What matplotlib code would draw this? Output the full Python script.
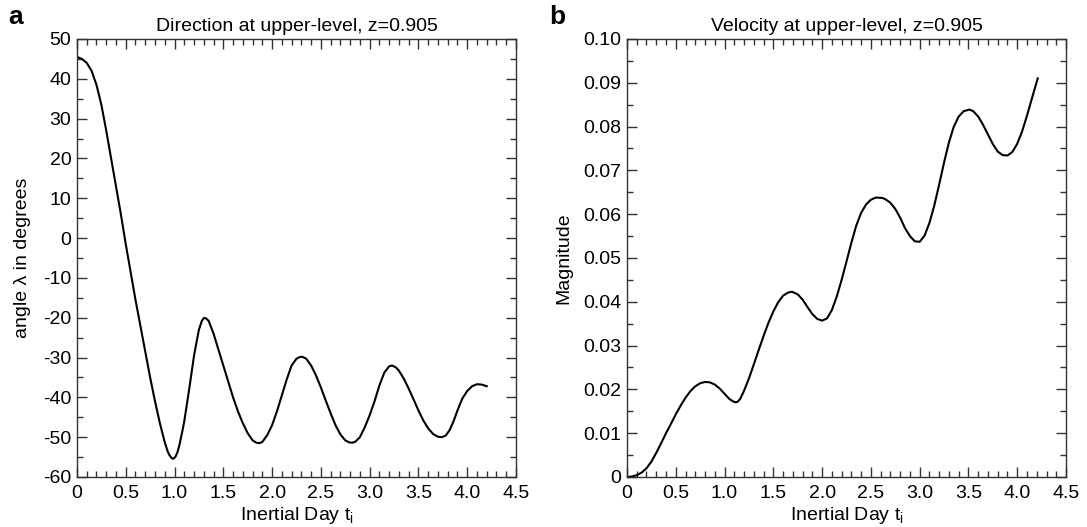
import matplotlib
matplotlib.use("Agg")
import matplotlib.pyplot as plt
from matplotlib.ticker import MultipleLocator, FuncFormatter

plt.rcParams['font.family'] = ['Liberation Sans', 'DejaVu Sans']
plt.rcParams['axes.unicode_minus'] = False

# panel a: direction angle (degrees) vs inertial day
t_dir = [0.00, 0.05, 0.10, 0.15, 0.20, 0.25, 0.30, 0.35, 0.40, 0.45,
         0.50, 0.55, 0.60, 0.65, 0.70, 0.75, 0.80, 0.85, 0.90, 0.93,
         0.95, 0.97, 0.98, 0.99, 1.01, 1.03, 1.05, 1.08, 1.10, 1.15,
         1.20, 1.25, 1.28, 1.30, 1.32, 1.35,
         1.40, 1.45, 1.50, 1.55, 1.60, 1.65, 1.70, 1.75, 1.80, 1.84,
         1.87, 1.90, 1.95, 2.00, 2.05, 2.10, 2.15, 2.20, 2.25, 2.28,
         2.31, 2.35, 2.40, 2.45, 2.50, 2.55, 2.60, 2.65, 2.70, 2.75,
         2.79, 2.82, 2.85, 2.90, 2.95, 3.00, 3.05, 3.10, 3.15, 3.20,
         3.23, 3.27, 3.30, 3.35, 3.40, 3.45, 3.50, 3.55, 3.60, 3.65,
         3.70, 3.74, 3.78, 3.82, 3.86, 3.90, 3.95, 4.00, 4.05, 4.10,
         4.15, 4.20]
angle = [45.5, 45.0, 44.0, 42.0, 38.5, 33.5, 27.0, 20.0, 13.0, 6.0,
         -1.5, -8.5, -15.5, -22.0, -28.5, -35.0, -41.0, -46.5, -51.3, -53.6,
         -54.6, -55.2, -55.4, -55.4, -54.9, -53.8, -52.0, -48.5, -46.0, -38.0,
         -29.5, -23.0, -20.8, -20.1, -20.1, -20.8,
         -24.0, -28.0, -32.0, -36.0, -40.0, -43.5, -46.5, -49.0, -50.8, -51.4,
         -51.5, -51.2, -49.5, -47.0, -43.5, -39.5, -35.5, -32.0, -30.3, -29.9,
         -29.8, -30.3, -32.0, -34.5, -37.5, -40.8, -44.0, -47.0, -49.3, -50.8,
         -51.3, -51.4, -51.2, -50.0, -47.5, -44.5, -41.0, -37.0, -33.8, -32.2,
         -32.0, -32.5, -33.3, -35.3, -37.8, -40.5, -43.3, -45.8, -47.8, -49.2,
         -49.9, -50.0, -49.6, -48.2, -46.0, -43.3, -40.3, -38.4, -37.2, -36.7,
         -36.8, -37.2]

# panel b: velocity magnitude vs inertial day
t_vel = [0.00, 0.05, 0.10, 0.15, 0.20, 0.25, 0.30, 0.35, 0.40, 0.45,
         0.50, 0.55, 0.60, 0.65, 0.70, 0.75, 0.80, 0.85, 0.90, 0.95,
         1.00, 1.05, 1.10, 1.13, 1.16, 1.20, 1.25, 1.30, 1.35, 1.40,
         1.45, 1.50, 1.55, 1.60, 1.65, 1.69, 1.75, 1.80, 1.85, 1.90,
         1.95, 2.00, 2.05, 2.10, 2.15, 2.20, 2.25, 2.30, 2.35, 2.40,
         2.45, 2.50, 2.55, 2.62, 2.65, 2.70, 2.75, 2.80, 2.85, 2.90,
         2.95, 3.00, 3.05, 3.10, 3.15, 3.20, 3.25, 3.30, 3.35, 3.40,
         3.45, 3.51, 3.55, 3.60, 3.65, 3.70, 3.75, 3.80, 3.85, 3.90,
         3.95, 4.00, 4.05, 4.10, 4.15, 4.21]
magnitude = [0.0000, 0.0001, 0.0004, 0.0010, 0.0020, 0.0035, 0.0055, 0.0077, 0.0100, 0.0121,
             0.0143, 0.0163, 0.0181, 0.0196, 0.0207, 0.0214, 0.0217, 0.0216, 0.0211, 0.0202,
             0.0190, 0.0178, 0.0171, 0.0171, 0.0178, 0.0197, 0.0225, 0.0257, 0.0290, 0.0322,
             0.0352, 0.0378, 0.0399, 0.0414, 0.0421, 0.0423, 0.0417, 0.0405, 0.0388, 0.0372,
             0.0361, 0.0357, 0.0362, 0.0381, 0.0412, 0.0450, 0.0492, 0.0535, 0.0574, 0.0603,
             0.0622, 0.0633, 0.0638, 0.0637, 0.0634, 0.0626, 0.0612, 0.0592, 0.0568, 0.0550,
             0.0538, 0.0537, 0.0551, 0.0580, 0.0620, 0.0668, 0.0718, 0.0764, 0.0800, 0.0823,
             0.0835, 0.0839, 0.0835, 0.0823, 0.0804, 0.0782, 0.0760, 0.0743, 0.0735, 0.0734,
             0.0742, 0.0761, 0.0789, 0.0825, 0.0864, 0.0910]

x_ticks = [0, 0.5, 1.0, 1.5, 2.0, 2.5, 3.0, 3.5, 4.0, 4.5]

FS = 14


def fmt_x(v, pos):
    return '0' if abs(v) < 1e-9 else '%.1f' % v


def fmt_vel(v, pos):
    return '0' if abs(v) < 1e-9 else '%.2f' % v


def style_axes(ax):
    ax.set_xlim(0, 4.5)
    ax.set_xticks(x_ticks)
    ax.xaxis.set_major_formatter(FuncFormatter(fmt_x))
    ax.xaxis.set_minor_locator(MultipleLocator(0.1))
    ax.tick_params(which='both', direction='in', top=True, right=True,
                   labelsize=FS, width=1.0, color='#333333')
    ax.tick_params(axis='x', pad=6)
    ax.tick_params(axis='y', pad=4)
    ax.tick_params(which='major', length=7.5)
    ax.tick_params(which='minor', length=4.2)
    for s in ax.spines.values():
        s.set_linewidth(1.0)
        s.set_color('#333333')
    ax.set_xlabel('Inertial Day t$_\\mathregular{i}$', fontsize=FS, labelpad=2)


fig = plt.figure(figsize=(10.87, 5.27), dpi=100)
ax1 = fig.add_axes([0.0708, 0.0949, 0.4039, 0.8311])
ax2 = fig.add_axes([0.5768, 0.0949, 0.4039, 0.8311])

ax1.plot(t_dir, angle, color='black', lw=1.5)
style_axes(ax1)
ax1.set_ylim(-60, 50)
ax1.yaxis.set_major_locator(MultipleLocator(10))
ax1.yaxis.set_minor_locator(MultipleLocator(5))
ax1.set_ylabel('angle \u03bb in degrees', fontsize=FS, labelpad=9)
ax1.set_title('Direction at upper-level, z=0.905', fontsize=FS, pad=6)

ax2.plot(t_vel, magnitude, color='black', lw=1.5)
style_axes(ax2)
ax2.set_ylim(0, 0.10)
ax2.yaxis.set_major_locator(MultipleLocator(0.01))
ax2.yaxis.set_minor_locator(MultipleLocator(0.005))
ax2.yaxis.set_major_formatter(FuncFormatter(fmt_vel))
ax2.set_ylabel('Magnitude', fontsize=FS, labelpad=8)
ax2.set_title('Velocity at upper-level, z=0.905', fontsize=FS, pad=6)

fig.text(0.008, 0.945, 'a', fontsize=19, fontweight='bold', va='bottom')
fig.text(0.505, 0.945, 'b', fontsize=19, fontweight='bold', va='bottom')

fig.savefig('out.png', dpi=100)
